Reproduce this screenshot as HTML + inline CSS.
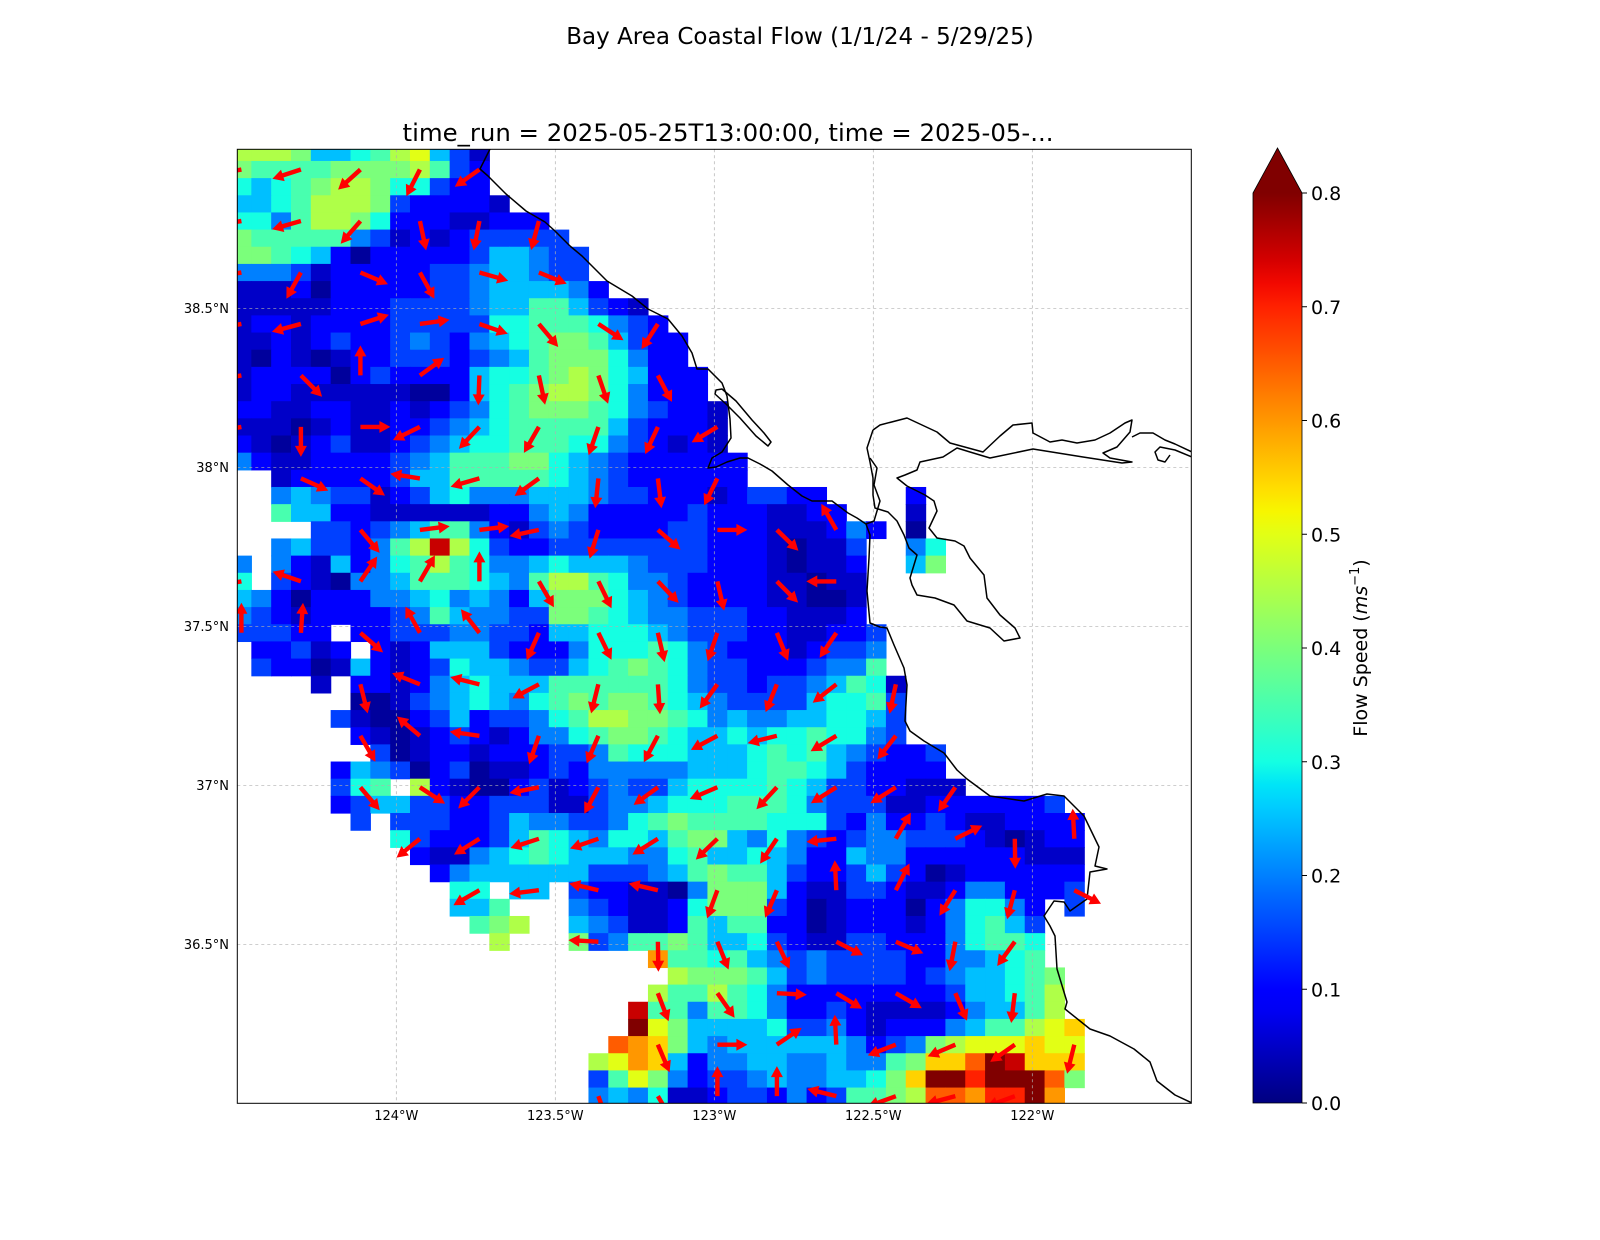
<!DOCTYPE html>
<html><head><meta charset="utf-8"><title>Bay Area Coastal Flow</title>
<style>
html,body{margin:0;padding:0;background:#fff;}
svg{display:block;font-family:"DejaVu Sans","Liberation Sans",sans-serif;}
</style></head>
<body>
<svg id="fig" width="1600" height="1240" viewBox="0 0 1600 1240" xmlns="http://www.w3.org/2000/svg">
<defs>
<clipPath id="plotclip"><rect x="237.3" y="149.3" width="954" height="954"/></clipPath>
<linearGradient id="cbgrad" x1="0" y1="1" x2="0" y2="0"></linearGradient>
</defs>
<rect width="1600" height="1240" fill="#fff"/>
<text x="800" y="44" font-size="23" text-anchor="middle" fill="#000">Bay Area Coastal Flow (1/1/24 - 5/29/25)</text>
<text x="728" y="141" font-size="24.4" text-anchor="middle" fill="#000">time_run = 2025-05-25T13:00:00, time = 2025-05-...</text>
<g id="plot">
<g id="cells" clip-path="url(#plotclip)"></g>
<g id="grid"></g>
<g id="coast" clip-path="url(#plotclip)" fill="none" stroke="#000" stroke-width="1.5" stroke-linejoin="round">
<path d="M490,149 L480,169 L488,176 L506,194 L526,211 L545,222 L555,231 L570,246 L582,256 L595,269 L607,281 L632,296 L648,309 L668,319 L682,336 L692,353 L697,369 L708,369 L722,383 L727,396 L730,419 L731,438 L722,452 L712,458 L708,468 L716,467 L727,462 L740,458 L748,458 L760,464 L772,471 L788,485 L802,496 L812,501 L832,501 L848,513 L857,518 L866,524 L870,535 L869,558 L867,591 L870,623 L880,627 L887,628 L894,645 L904,668 L907,685 L905,721 L910,731 L924,741 L944,753 L957,770 L967,779 L990,796 L1024,801 L1047,794 L1064,796 L1084,816 L1099,847 L1095,866 L1107,869 L1090,872 L1087,899 L1070,911 L1064,902 L1054,901 L1044,916 L1050,926 L1055,936 L1057,969 L1067,1002 L1065,1009 L1090,1029 L1110,1036 L1134,1049 L1150,1062 L1157,1081 L1175,1095 L1192,1103"/>
<path d="M716,390 L722,389 L736,401 L752,420 L764,433 L771,442 L768,446 L756,436 L740,418 L726,404 L715,394 Z"/>
<path d="M870,458 L877,468 L874,485 L880,501 L874,521 L866,524"/>
<path d="M873,430 L880,425 L907,418 L937,432 L950,443 L983,452 L1000,436 L1013,425 L1032,423 L1033,433 L1050,442 L1062,440 L1077,443 L1095,440 L1110,433 L1125,423 L1132,420 L1130,432 L1117,447 L1103,453 L1110,458 L1132,462 L1122,463 L1083,457 L1033,449 L990,458 L970,452 L957,448 L943,457 L920,462 L917,470 L905,475 L897,478 L907,486 L925,495 L934,501 L937,511 L929,528 L937,538 L955,541 L964,546 L970,558 L984,575 L987,598 L1000,615 L1015,628 L1020,638 L1004,641 L990,628 L967,621 L954,605 L935,598 L917,595 L912,585 L910,578 L917,555 L909,548 L904,535 L897,521 L888,512 L875,508 L873,495 L873,478 L870,462 L867,448 L873,430"/>
<path d="M1132,437 L1140,433 L1153,433 L1165,440 L1175,444 L1192,452 M1192,457 L1175,450 L1160,447 L1155,452 L1158,460 L1165,462 L1170,455"/>
</g>
<g id="arrows" clip-path="url(#plotclip)"></g>
<rect x="237.3" y="149.3" width="954" height="954" fill="none" stroke="#000" stroke-width="1"/>
<g id="xlabels"></g>
<g id="ylabels"></g>
</g>
<g id="colorbar">
<rect x="1253" y="193" width="49" height="910" fill="url(#cbgrad)"/>
<polygon points="1253,193 1277.5,148 1302,193" fill="#800000"/>
<path d="M1253,1103 L1253,193 L1277.5,148 L1302,193 L1302,1103 Z" fill="none" stroke="#000" stroke-width="0.8"/>
<g id="cbticks"></g>
<text transform="translate(1367,648) rotate(-90)" font-size="19" text-anchor="middle" fill="#000">Flow Speed (<tspan font-style="italic">ms</tspan><tspan font-size="13" dy="-8">−1</tspan><tspan dy="8">)</tspan></text>
</g>
</svg>
<script>
// ---- data ----
const speedRows = [
"999855679A531",
"8777788889732",
"6567899866322",
"55679998322221",
"6647998622211222",
"87777743121233333",
"887652022222355433",
"444312222233455433",
"1112022222334555542",
"111112223333455775321",
"1221222233333667776432",
"11212322343245678875322",
"10210122333234578886422",
"122220232222566789865222",
"122111111002567899864222",
"2211221121234678887643221",
"1110121122345677777532221",
"2101231123456677766432121",
"42112222345777886543222222",
"..122222355777776543222222",
"..454331235644455"+"5433222123322"+"....2",
"..75522111111224"+"542222232221122"+"...1",
"....332345774213"+"4322223322211124"+"2.0",
"..45332479F96322"+"3333333322210113"+"..46",
"4.42152467976445"+"6555433322210112"+"..58",
"6.32104457776547"+"9976443222211011",
"5420222445645425"+"8886543222211001",
"4321222234754433"+"8876544333221112",
"33322.2233344332"+"5566654333221122"+"3",
".22312.212555322"+"2466676432221233"+"4",
".322015212365543"+"3567876433222344"+"7",
"....1.2212456555"+"7777776433233457"+"61",
"......0013456546"+"7878876543333566"+"73",
".....31002352334"+"6799887645445566"+"53",
"......2101232124"+"4678876556566766"+"43",
".......301221222"+"3347666555676754"+"3223",
".....25430230112"+"3244444555677653"+"2222",
".....367.9210023"+"1234335666676533"+"22111",
".....23553322333"+"1134456667776433"+"3112222223",
"......3.33322354"+"4334678777766632"+"42232112222",
"........63222357"+"6546657885464323"+"44333210122",
".........2114567"+"6555446755654225"+"44222222111",
"..........245555"+"5533345787753223"+"53201222222",
"...........66.55"+".322110488852113"+"32112442223",
"...........557.."+".432112688832012"+"220246642.3",
"............789."+".543112757722012"+"221246753",
".............9.."+".834778755632113"+"322246776",
"................"+".....C7767543433"+"332244567",
"................"+"......9888753433"+"3323455678",
"................"+".....97797642222"+"2222355679",
"................"+"....F77477642232"+"1111245579",
"................"+"....GA8555563342"+"122245779AB",
"................"+"...DCB8545555554"+"23489AAABAA",
"................"+"..9ACB5244554454"+"478BBDGFBBB",
"................"+"..37A84233454455"+"68BGGEGGGD8",
"................"+"..45461123324237"+"789DDCEEGC"
];
const levelChars = "0123456789ABCDEFG";
const levelValues = [0.02,0.05,0.10,0.15,0.20,0.25,0.30,0.35,0.40,0.45,0.50,0.55,0.60,0.65,0.70,0.75,0.80];
const arrowRows = [1,1,1,1,1, 4,4,4,4,4,4, 7,7,7,7,7,7, 10,10,10,10,10,10,10,10, 13,13,13,13,13,13,13,13, 16,16,16,16,16,16,16,16,16,
 19,19,19,19,19,19,19,19, 22,22,22,22,22,22,22,22,22, 25,25,25,25,25,25,25,25,25,25,25, 28,28,28,28,28,28,28,28,28,28,28,
 31,31,31,31,31,31,31,31,31,31, 34,34,34,34,34,34,34,34,34,34, 37,37,37,37,37,37,37,37,37,37,37,
 40,40,40,40,40,40,40,40,40,40,40,40, 43,43,43,43,43,43,43,43,43,43,43, 46,46,46,46,46,46,46,46,
 49,49,49,49,49,49,49, 52,52,52,52,52,52,52,52, 55,55,55,55,55,55,55,55];
const arrowCols = [0,3,6,9,12, 0,3,6,9,12,15, 0,3,6,9,12,15, 0,3,6,9,12,15,18,21, 0,3,6,9,12,15,18,21, 0,3,6,9,12,15,18,21,24,
 3,6,9,12,15,18,21,24, 6,9,12,15,18,21,24,27,30, 0,3,6,9,12,15,18,21,24,27,30, 0,3,6,9,12,15,18,21,24,27,30,
 6,9,12,15,18,21,24,27,30,33, 6,9,12,15,18,21,24,27,30,33, 6,9,12,15,18,21,24,27,30,33,36,
 9,12,15,18,21,24,27,30,33,36,39,42, 12,15,18,21,24,27,30,33,36,39,42, 18,21,24,27,30,33,36,39,
 21,24,27,30,33,36,39, 21,24,27,30,33,36,39,42, 18,21,24,27,30,33,36,39];
const arrowAngles = [190,198,222,243,215, 190,196,229,282,259,255, 190,241,337,299,344,338, 190,195,18,8,341,310,327,237, 190,315,90,36,268,282,289,298, 190,270,0,206,227,240,251,245,211,
 336,325,171,196,216,264,277,244, 310,7,7,192,253,319,0,316,120, 190,161,56,60,90,300,296,314,283,315,180, 90,86,319,119,128,246,296,283,251,292,236,
 284,158,166,208,256,274,234,248,218,258, 300,140,172,251,247,242,208,194,211,232, 310,327,225,191,242,216,203,227,212,212,235,
 219,212,198,199,212,224,236,186,60,26,271,93, 210,187,167,167,250,247,93,63,238,255,333, 177,271,292,295,333,337,259,234,
 291,305,357,329,330,293,263, 293,0,34,93,201,203,215,256, 290,300,90,90,166,200,195,200];
const xTickValues = [-124,-123.5,-123,-122.5,-122];
const xTickLabels = ["124°W","123.5°W","123°W","122.5°W","122°W"];
const yTickValues = [38.5,38,37.5,37,36.5];
const yTickLabels = ["38.5°N","38°N","37.5°N","37°N","36.5°N"];
const cbTickValues = [0,0.1,0.2,0.3,0.4,0.5,0.6,0.7,0.8];
const cbTickLabels = ["0.0","0.1","0.2","0.3","0.4","0.5","0.6","0.7","0.8"];

// ---- scales ----
const PX0=237.3, PY0=149.3, PW=954, PH=954;
const LON0=-124.5, LON1=-121.5, LAT0=36, LAT1=39;
function xScale(lon){return PX0+(lon-LON0)/(LON1-LON0)*PW;}
function yScale(lat){return PY0+(LAT1-lat)/(LAT1-LAT0)*PH;}
const gridLon0=-124.5182, dLon=0.06236, gridLat0=39.0173, dLat=0.05396;
function cellLon(c){return gridLon0+c*dLon;}
function cellLat(r){return gridLat0-r*dLat;}
const VMAX=0.8, CB_TOP=193, CB_BOT=1103;
function cbScale(v){return CB_BOT-(v/VMAX)*(CB_BOT-CB_TOP);}

function interp(pts,t){
  for(let i=1;i<pts.length;i++){
    if(t<=pts[i][0]){const a=pts[i-1],b=pts[i];const f=(t-a[0])/(b[0]-a[0]);return a[1]+f*(b[1]-a[1]);}
  }
  return pts[pts.length-1][1];
}
const JR=[[0,0],[0.35,0],[0.66,1],[0.89,1],[1,0.5]];
const JG=[[0,0],[0.125,0],[0.375,1],[0.64,1],[0.91,0],[1,0]];
const JB=[[0,0.5],[0.11,1],[0.34,1],[0.65,0],[1,0]];
function jet(t){t=Math.max(0,Math.min(1,t));
  return "rgb("+Math.round(255*interp(JR,t))+","+Math.round(255*interp(JG,t))+","+Math.round(255*interp(JB,t))+")";}

const NS="http://www.w3.org/2000/svg";
function mk(tag,attrs,parent){const e=document.createElementNS(NS,tag);for(const k in attrs)e.setAttribute(k,attrs[k]);parent.appendChild(e);return e;}

// ---- cells ----
const cellsG=document.getElementById('cells');
speedRows.forEach(function(row,r){
  for(let c=0;c<row.length;c++){
    const ch=row[c]; const idx=levelChars.indexOf(ch);
    if(idx<0) continue;
    const v=levelValues[idx];
    const x0=xScale(cellLon(c)), x1=xScale(cellLon(c+1));
    const y0=yScale(cellLat(r)), y1=yScale(cellLat(r+1));
    const el=mk('rect',{x:x0.toFixed(2),y:y0.toFixed(2),width:(x1-x0+0.6).toFixed(2),height:(y1-y0+0.6).toFixed(2),fill:jet(v/VMAX)},cellsG);
    
    
  }
});

// ---- grid + tick labels ----
const gridG=document.getElementById('grid');
const xl=document.getElementById('xlabels'), yl=document.getElementById('ylabels');
xTickValues.forEach(function(v,i){
  const x=xScale(v);
  const ln=mk('line',{x1:x,y1:PY0,x2:x,y2:PY0+PH,stroke:'#b0b0b0','stroke-width':0.7,'stroke-dasharray':'3,3'},gridG);
  
  
  const t=mk('text',{x:x,y:1120,'font-size':13,'text-anchor':'middle',fill:'#000'},xl);
  t.textContent=xTickLabels[i];
  
  
});
yTickValues.forEach(function(v,i){
  const y=yScale(v);
  const ln=mk('line',{x1:PX0,y1:y,x2:PX0+PW,y2:y,stroke:'#b0b0b0','stroke-width':0.7,'stroke-dasharray':'3,3'},gridG);
  
  
  const t=mk('text',{x:229,y:y+4.5,'font-size':13,'text-anchor':'end',fill:'#000'},yl);
  t.textContent=yTickLabels[i];
  
  
});

// ---- arrows ----
const arrG=document.getElementById('arrows');
const L=30, SW=2.2, HW=6, HL=11;
arrowRows.forEach(function(r,i){
  const c=arrowCols[i], a=arrowAngles[i]*Math.PI/180;
  const tx=xScale(cellLon(c+0.5)), ty=yScale(cellLat(r+0.5));
  const ux=Math.cos(a), uy=-Math.sin(a), px=-uy, py=ux;
  const hx=tx+ux*L, hy=ty+uy*L, bx=tx+ux*(L-HL), by=ty+uy*(L-HL);
  const pts=[[tx+px*SW,ty+py*SW],[bx+px*SW,by+py*SW],[bx+px*HW,by+py*HW],[hx,hy],[bx-px*HW,by-py*HW],[bx-px*SW,by-py*SW],[tx-px*SW,ty-py*SW]];
  const el=mk('polygon',{points:pts.map(function(p){return p[0].toFixed(1)+','+p[1].toFixed(1);}).join(' '),fill:'#ff0000'},arrG);
  
  
});

// ---- colorbar ----
const grad=document.getElementById('cbgrad');
for(let s=0;s<=40;s++){const t=s/40;mk('stop',{offset:t,'stop-color':jet(t)},grad);}
const cbt=document.getElementById('cbticks');
cbTickValues.forEach(function(v,i){
  const y=cbScale(v);
  const tk=mk('line',{x1:1302,y1:y,x2:1307,y2:y,stroke:'#000','stroke-width':1},cbt);
  
  
  const t=mk('text',{x:1311,y:y+7,'font-size':19,fill:'#000'},cbt);
  t.textContent=cbTickLabels[i];
  
  
});
</script>
</body></html>
